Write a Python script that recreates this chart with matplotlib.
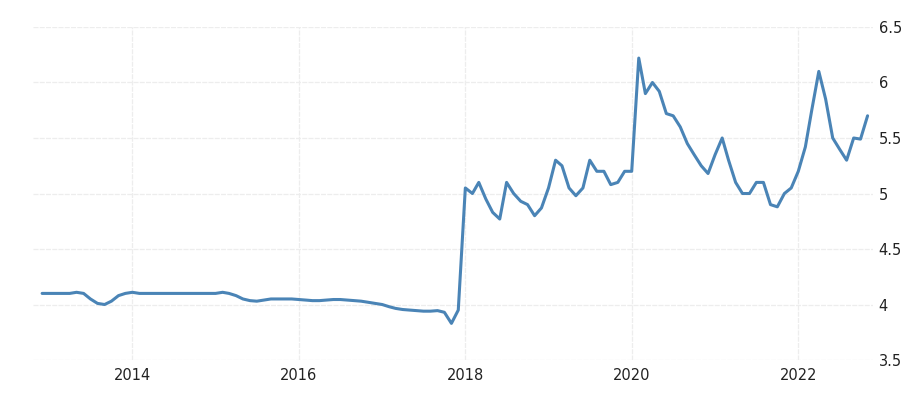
import matplotlib
matplotlib.use("Agg")
import matplotlib.pyplot as plt
import pandas as pd

# Monthly values, Dec 2012 .. Nov 2022
start_month = "2012-12-01"
values = [
    # Dec 2012
    4.10,
    # 2013
    4.10, 4.10, 4.10, 4.10, 4.11, 4.10, 4.05, 4.01, 4.00, 4.03, 4.08, 4.10,
    # 2014
    4.11, 4.10, 4.10, 4.10, 4.10, 4.10, 4.10, 4.10, 4.10, 4.10, 4.10, 4.10,
    # 2015
    4.10, 4.11, 4.10, 4.08, 4.05, 4.035, 4.03, 4.04, 4.05, 4.05, 4.05, 4.05,
    # 2016
    4.045, 4.04, 4.035, 4.035, 4.04, 4.045, 4.045, 4.04, 4.035, 4.03, 4.02, 4.01,
    # 2017
    4.00, 3.98, 3.965, 3.955, 3.95, 3.945, 3.94, 3.94, 3.945, 3.93, 3.83, 3.95,
    # 2018
    5.05, 5.00, 5.10, 4.95, 4.83, 4.77, 5.10, 5.00, 4.93, 4.90, 4.80, 4.87,
    # 2019
    5.05, 5.30, 5.25, 5.05, 4.98, 5.05, 5.30, 5.20, 5.20, 5.08, 5.10, 5.20,
    # 2020
    5.20, 6.22, 5.90, 6.00, 5.92, 5.72, 5.70, 5.60, 5.45, 5.35, 5.25, 5.18,
    # 2021
    5.35, 5.50, 5.30, 5.10, 5.00, 5.00, 5.10, 5.10, 4.90, 4.88, 5.00, 5.05,
    # 2022
    5.20, 5.42, 5.75, 6.10, 5.85, 5.50, 5.40, 5.30, 5.50, 5.49, 5.70,
]
dates = pd.date_range(start_month, periods=len(values), freq="MS")

y_ticks = [3.5, 4, 4.5, 5, 5.5, 6, 6.5]
y_tick_labels = ["3.5", "4", "4.5", "5", "5.5", "6", "6.5"]
x_tick_years = [2014, 2016, 2018, 2020, 2022]

fig = plt.figure(figsize=(9.02, 4.01), dpi=100)
ax = fig.add_axes([0.0366, 0.1022, 0.9313, 0.8305])

ax.plot(dates, values, color="#4a84b6", linewidth=2.2,
        solid_joinstyle="round", solid_capstyle="round")

ax.set_ylim(3.5, 6.5)
ax.set_xlim(pd.Timestamp("2012-10-22"), pd.Timestamp("2022-11-25"))

ax.set_yticks(y_ticks)
ax.set_yticklabels(y_tick_labels)
ax.yaxis.tick_right()
ax.set_xticks([pd.Timestamp(f"{y}-01-01") for y in x_tick_years])
ax.set_xticklabels([str(y) for y in x_tick_years])

ax.tick_params(axis="both", length=0, labelsize=10.5, colors="#222222")
ax.tick_params(axis="y", pad=4)
ax.tick_params(axis="x", pad=6)

for s in ax.spines.values():
    s.set_visible(False)

ax.grid(True, color="#ededed", linewidth=0.9, linestyle=(0, (4, 1)))
ax.set_axisbelow(True)

fig.savefig("out.png", dpi=100)
